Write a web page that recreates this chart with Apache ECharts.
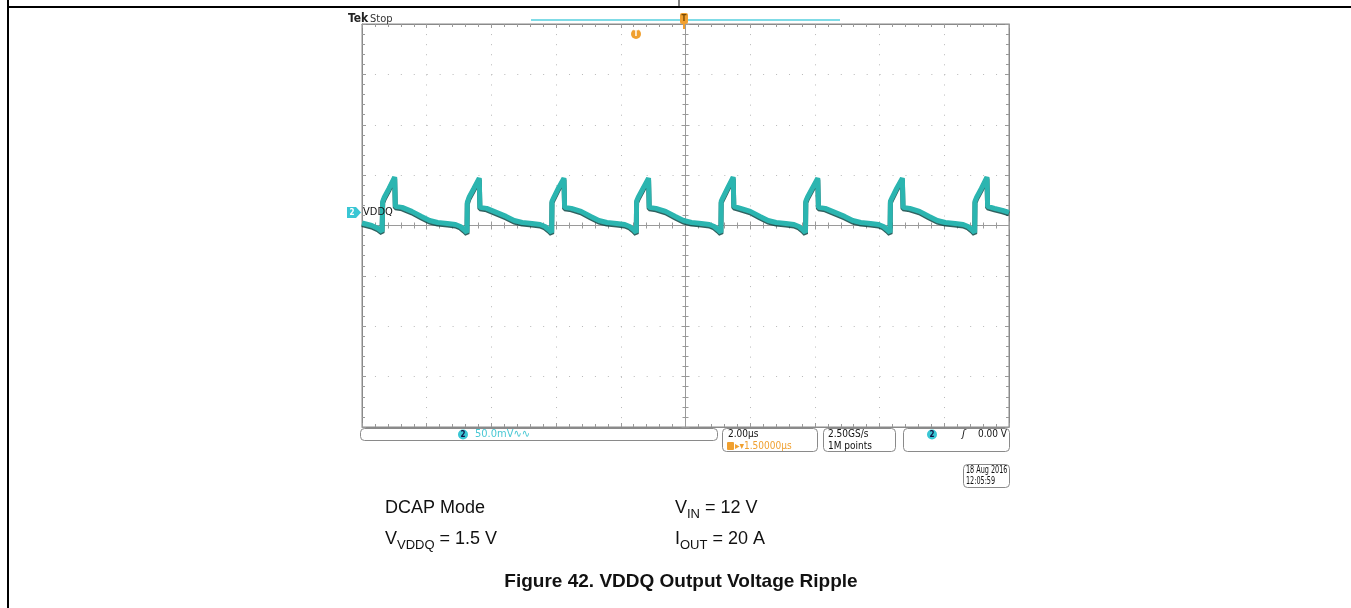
<!DOCTYPE html>
<html><head><meta charset="utf-8">
<script src="https://cdn.jsdelivr.net/npm/echarts@6/dist/echarts.min.js"></script>
<style>html,body{margin:0;padding:0;background:#fff}#c{width:1351px;height:608px}</style>
</head><body><div id="c"></div>
<script>
// Time (µs, trigger at 0) and VDDQ ripple (mV, AC coupled) read from the scope capture
const timeUs = [
 -10, -9.7, -9.5, -9.38, -9.37,
 -9.36, -9.31, -9.16, -8.99, -8.97, -8.76, -8.46, -8.16, -7.91, -7.66, -7.36, -7.11, -6.96, -6.85, -6.755,
 -6.745, -6.69, -6.54, -6.375, -6.355, -6.145, -5.845, -5.545, -5.295, -5.045, -4.745, -4.495, -4.345, -4.23, -4.137,
 -4.127, -4.07, -3.93, -3.757, -3.737, -3.527, -3.227, -2.927, -2.677, -2.427, -2.127, -1.877, -1.727, -1.61, -1.522,
 -1.512, -1.46, -1.31, -1.142, -1.122, -0.912, -0.612, -0.312, -0.062, 0.188, 0.488, 0.738, 0.888, 1.0, 1.094,
 1.104, 1.16, 1.30, 1.474, 1.494, 1.704, 2.004, 2.304, 2.554, 2.804, 3.104, 3.354, 3.504, 3.62, 3.709,
 3.719, 3.77, 3.92, 4.089, 4.109, 4.319, 4.619, 4.919, 5.169, 5.419, 5.719, 5.969, 6.119, 6.23, 6.324,
 6.334, 6.39, 6.53, 6.704, 6.724, 6.934, 7.234, 7.534, 7.784, 8.034, 8.334, 8.584, 8.734, 8.85, 8.939,
 8.949, 9.0, 9.15, 9.319, 9.339, 9.55, 9.8, 10.0
];
const vddqMv = [
 2.5, 0, -3, -6, -7,
 24, 28, 37, 48, 19, 18, 14, 9, 5, 3, 2, 1, -1, -4, -7,
 23, 28, 37, 47, 18, 17, 13, 9, 5, 3, 2, 1, -1, -4, -7,
 24, 28, 37, 47, 18, 17, 14, 9, 5, 3, 2, 1, -1, -4, -7,
 24, 28, 37, 47, 18, 17, 14, 9, 5, 3, 2, 1, -1, -4, -7,
 24, 28, 37, 48, 19, 17, 14, 9, 5, 3, 2, 1, -1, -4, -7,
 24, 28, 37, 47, 18, 17, 13, 9, 5, 3, 2, 1, -1, -4, -7,
 24, 28, 37, 47, 18, 17, 14, 9, 5, 3, 2, 1, -1, -4, -7,
 24, 28, 37, 48, 19, 17, 15, 13
];
const xMin = -10, xMax = 10, xStep = 2;      // 2.00 µs/div
const yMin = -200, yMax = 200, yStep = 50;   // 50.0 mV/div

const chart = echarts.init(document.getElementById('c'), null, {renderer: 'canvas'});
const scopeFont = '"DejaVu Sans Condensed","Liberation Sans Narrow","DejaVu Sans",sans-serif';
const gridCol = '#b8b8b8';
const tickCol = '#9a9a9a';

function xAx(extra) {
  return Object.assign({
    type: 'value', min: xMin, max: xMax, interval: xStep,
    axisLabel: {show: false}, splitLine: {show: false},
    axisLine: {show: true, lineStyle: {color: tickCol, width: 1}},
    axisTick: {show: true, inside: true, length: 4, lineStyle: {color: tickCol}},
    minorTick: {show: true, splitNumber: 5, length: 3, lineStyle: {color: tickCol}}
  }, extra);
}
function yAx(extra) {
  return Object.assign({
    type: 'value', min: yMin, max: yMax, interval: yStep,
    axisLabel: {show: false}, splitLine: {show: false},
    axisLine: {show: true, lineStyle: {color: tickCol, width: 1}},
    axisTick: {show: true, inside: true, length: 4, lineStyle: {color: tickCol}},
    minorTick: {show: true, splitNumber: 5, length: 3, lineStyle: {color: tickCol}}
  }, extra);
}

const T = (text, x, y, o, extra) => Object.assign({type: 'text', x, y, silent: true, z: 30,
  style: Object.assign({text, fill: '#111', font: '10px ' + scopeFont, textAlign: 'left', textVerticalAlign: 'middle'}, o || {})}, extra || {});
const box = (x, y, w, h) => ({type: 'rect', shape: {x, y, width: w, height: h, r: 4}, silent: true,
  style: {fill: 'none', stroke: '#8a8a8a', lineWidth: 1}});

const bodyFont = '"Liberation Sans", Arial, sans-serif';
const richMain = {
  a: {fontSize: 18, fontFamily: bodyFont, lineHeight: 26, verticalAlign: 'middle', fill: '#111', color: '#111'},
  s: {fontSize: 13, fontFamily: bodyFont, lineHeight: 14, verticalAlign: 'bottom', fill: '#111', color: '#111'}
};

const option = {
  animation: false,
  backgroundColor: '#fff',
  grid: {left: 362, top: 24, width: 647, height: 403, show: true, borderColor: '#8a8a8a', borderWidth: 1, backgroundColor: '#fff'},
  xAxis: [
    xAx({position: 'bottom', axisLine: {show: true, onZero: true, lineStyle: {color: tickCol}},
      splitLine: {show: true, lineStyle: {color: gridCol, type: [1, 9.08], width: 1}}}),
    xAx({position: 'bottom', axisLine: {show: true, onZero: true, lineStyle: {color: tickCol}},
      axisTick: {show: true, inside: false, length: 4, lineStyle: {color: tickCol}},
      minorTick: {show: true, splitNumber: 5, length: 3, lineStyle: {color: tickCol}}}),
    xAx({position: 'top', axisLine: {show: true, onZero: false, lineStyle: {color: '#8a8a8a'}}}),
    xAx({position: 'bottom', axisLine: {show: true, onZero: false, lineStyle: {color: '#8a8a8a'}}})
  ],
  yAxis: [
    yAx({position: 'left', axisLine: {show: true, onZero: true, lineStyle: {color: tickCol}},
      splitLine: {show: true, lineStyle: {color: gridCol, type: [1, 11.94], width: 1}}}),
    yAx({position: 'left', axisLine: {show: true, onZero: true, lineStyle: {color: tickCol}},
      axisTick: {show: true, inside: false, length: 4, lineStyle: {color: tickCol}},
      minorTick: {show: true, splitNumber: 5, length: 3, lineStyle: {color: tickCol}}}),
    yAx({position: 'left', axisLine: {show: true, onZero: false, lineStyle: {color: '#8a8a8a'}}}),
    yAx({position: 'right', axisLine: {show: true, onZero: false, lineStyle: {color: '#8a8a8a'}}})
  ],
  series: [{
    type: 'line', xAxisIndex: 0, yAxisIndex: 0,
    data: timeUs.map((t, i) => [t, vddqMv[i]]),
    showSymbol: false, smooth: false, z: 5,
    lineStyle: {color: '#2bb5b0', width: 5, shadowColor: 'rgba(12,70,68,0.85)', shadowOffsetY: 1.5, shadowBlur: 0}
  }],
  graphic: [
    // page frame
    {type: 'line', shape: {x1: 8, y1: 0, x2: 8, y2: 608}, style: {stroke: '#000', lineWidth: 2}, silent: true},
    {type: 'line', shape: {x1: 8, y1: 7, x2: 1351, y2: 7}, style: {stroke: '#000', lineWidth: 2}, silent: true},
    {type: 'line', shape: {x1: 679, y1: 0, x2: 679, y2: 7}, style: {stroke: '#000', lineWidth: 1}, silent: true},
    // header
    T('Tek', 348, 19, {font: 'bold 12px ' + scopeFont, fill: '#222'}),
    T('Stop', 370, 19, {font: '11px ' + scopeFont, fill: '#333'}),
    {type: 'line', shape: {x1: 531, y1: 20, x2: 840, y2: 20}, style: {stroke: '#7fdbe6', lineWidth: 2}, silent: true},
    {type: 'rect', shape: {x: 680, y: 13, width: 8, height: 11, r: 2}, style: {fill: '#f0a030'}, silent: true, z: 20},
    T('T', 684, 18.5, {font: 'bold 8px ' + scopeFont, fill: '#7a4a00', textAlign: 'center'}),
    {type: 'line', shape: {x1: 684, y1: 24, x2: 684, y2: 29}, style: {stroke: '#f0a030', lineWidth: 2}, silent: true, z: 20},
    {type: 'circle', shape: {cx: 636, cy: 34, r: 5}, style: {fill: '#f0a030'}, silent: true, z: 20},
    T('T', 636, 34, {font: 'bold 8px ' + scopeFont, fill: '#fff', textAlign: 'center'}),
    // channel 2 marker
    {type: 'polygon', shape: {points: [[347, 207], [356, 207], [361, 212.5], [356, 218], [347, 218]]}, style: {fill: '#39c6d4'}, silent: true, z: 20},
    T('2', 352, 212.5, {font: 'bold 8px ' + scopeFont, fill: '#fff', textAlign: 'center'}),
    T('VDDQ', 363, 212.5, {font: '11px ' + scopeFont, fill: '#111'}),
    // status bar
    box(360.5, 428.5, 357, 12),
    {type: 'circle', shape: {cx: 463, cy: 434.5, r: 5}, style: {fill: '#39c6d4'}, silent: true},
    T('2', 463, 434.5, {font: 'bold 8px ' + scopeFont, fill: '#114', textAlign: 'center'}),
    T('50.0mV\u223F\u223F', 475, 434.5, {fill: '#49c8d4', font: '11px ' + scopeFont}),
    box(722.5, 428.5, 95, 23),
    T('2.00\u00B5s', 728, 434.5),
    {type: 'rect', shape: {x: 727, y: 442, width: 7, height: 8, r: 1}, style: {fill: '#f0a030'}, silent: true},
    T('\u25B8\u25BE1.50000\u00B5s', 735, 446.5, {fill: '#f0a030'}),
    box(823.5, 428.5, 72, 23),
    T('2.50GS/s', 828, 434.5),
    T('1M points', 828, 446.5),
    box(903.5, 428.5, 106, 23),
    {type: 'circle', shape: {cx: 932, cy: 434.5, r: 5}, style: {fill: '#39c6d4'}, silent: true},
    T('2', 932, 434.5, {font: 'bold 8px ' + scopeFont, fill: '#114', textAlign: 'center'}),
    T('\u0283', 962, 434.5, {font: 'italic 11px ' + scopeFont}),
    T('0.00 V', 1007, 434.5, {textAlign: 'right'}),
    box(963.5, 464.5, 46, 23),
    T('18 Aug 2016', 966, 470.5, {font: '10px ' + scopeFont}, {scaleX: 0.72}),
    T('12:05:59', 966, 481.5, {font: '10px ' + scopeFont}, {scaleX: 0.72}),
    // conditions text
    {type: 'text', x: 385, y: 508, silent: true, style: {text: '{a|DCAP Mode}', rich: richMain, textVerticalAlign: 'middle'}},
    {type: 'text', x: 385, y: 539, silent: true, style: {text: '{a|V}{s|VDDQ}{a| = 1.5 V}', rich: richMain, textVerticalAlign: 'middle'}},
    {type: 'text', x: 675, y: 508, silent: true, style: {text: '{a|V}{s|IN}{a| = 12 V}', rich: richMain, textVerticalAlign: 'middle'}},
    {type: 'text', x: 675, y: 539, silent: true, style: {text: '{a|I}{s|OUT}{a| = 20 A}', rich: richMain, textVerticalAlign: 'middle'}},
    {type: 'text', x: 681, y: 582, silent: true, style: {text: 'Figure 42. VDDQ Output Voltage Ripple', font: 'bold 19px ' + bodyFont, fill: '#111', textAlign: 'center', textVerticalAlign: 'middle'}}
  ]
};
chart.setOption(option);
</script></body></html>
